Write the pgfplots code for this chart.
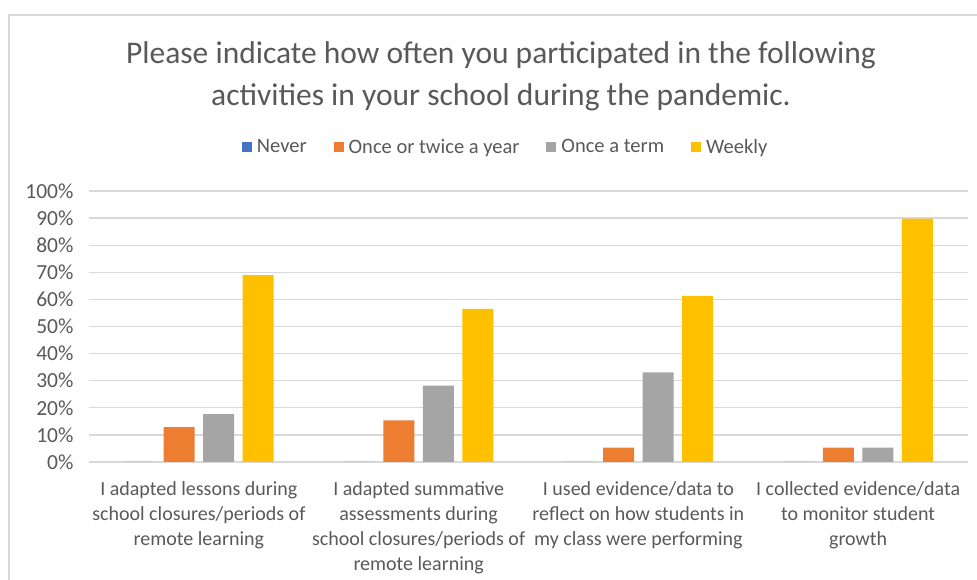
\documentclass[border=0pt]{standalone}
\usepackage{pgfplots}
\pgfplotsset{compat=1.18}
\usepackage{fontspec}
\setmainfont{Carlito}
\definecolor{txt}{HTML}{595959}
\definecolor{gridc}{HTML}{D9D9D9}
\definecolor{cblue}{HTML}{4472C4}
\definecolor{corange}{HTML}{ED7D31}
\definecolor{cgray}{HTML}{A5A5A5}
\definecolor{cyellow}{HTML}{FFC000}
\begin{document}
\begin{tikzpicture}[x=1pt,y=1pt]
\path[use as bounding box] (0,0) rectangle (977,580);
\draw[gridc, line width=1.5pt] (9,0) -- (9,565) -- (977,565);
\node[txt, font=\fontsize{31.5}{42}\selectfont, align=center] at (501,504) {Please indicate how often you participated in the following\\activities in your school during the pandemic.};
\begin{axis}[
  at={(89pt,118pt)}, anchor=south west, scale only axis,
  width=879pt, height=271pt,
  ymin=0, ymax=100, xmin=-0.5, xmax=3.5,
  ybar, bar width=0.141,
  ytick={0,10,...,100},
  yticklabel={\pgfmathprintnumber{\tick}\%},
  /pgf/number format/assume math mode=true,
  yticklabel style={font=\fontsize{21.5}{24}\selectfont, text=txt, xshift=-12pt},
  xtick={0,1,2,3},
  xticklabels={{I adapted lessons during\\school closures/periods of\\remote learning},
               {I adapted summative\\assessments during\\school closures/periods of\\remote learning},
               {I used evidence/data to\\reflect on how students in\\my class were performing},
               {I collected evidence/data\\to monitor student\\growth}},
  xticklabel style={font=\fontsize{20}{25}\selectfont, text=txt, align=center, yshift=-16pt},
  major tick length=0pt,
  axis line style={draw=none},
  ymajorgrids, grid style={gridc, line width=1.3pt},
  legend columns=4,
  legend style={at={(0.474,1.162)}, anchor=center, draw=none, font=\fontsize{20.5}{24}\selectfont, text=txt,
    /tikz/every even column/.append style={column sep=25pt},
    /tikz/every odd column/.append style={column sep=3pt}},
  legend image code/.code={\fill[#1] (0pt,-5pt) rectangle (10pt,5pt);},
]
\addplot[fill=cblue, draw=none, bar shift=-0.27] coordinates {(0,0) (1,0) (2,0) (3,0)};
\addplot[fill=corange, draw=none, bar shift=-0.09] coordinates {(0,12.9) (1,15.4) (2,5.3) (3,5.3)};
\addplot[fill=cgray, draw=none, bar shift=0.09] coordinates {(0,17.7) (1,28.2) (2,33.1) (3,5.3)};
\addplot[fill=cyellow, draw=none, bar shift=0.27] coordinates {(0,69.0) (1,56.5) (2,61.3) (3,89.8)};
\legend{Never, Once or twice a year, Once a term, Weekly}
\end{axis}
\end{tikzpicture}
\end{document}
